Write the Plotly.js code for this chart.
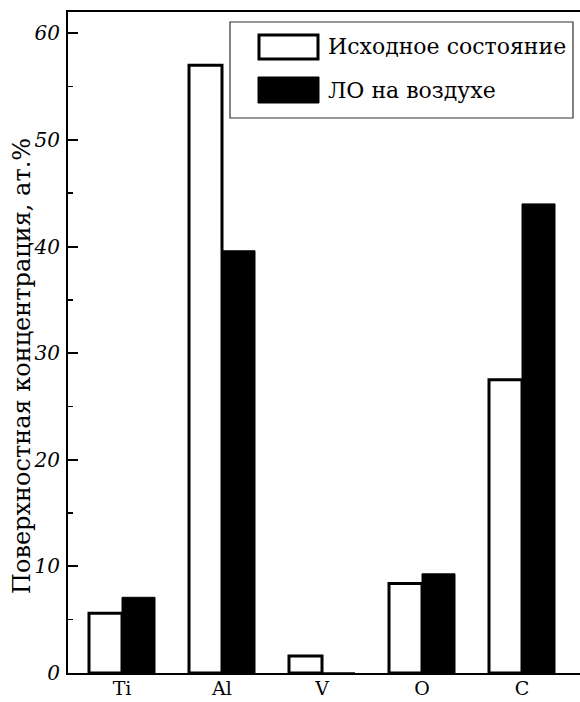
<!DOCTYPE html>
<html><head><meta charset="utf-8">
<script src="https://cdn.plot.ly/plotly-3.0.1.min.js"></script>
<style>html,body{margin:0;padding:0;background:#fff}#c{width:580px;height:702px}</style>
</head><body><div id="c"></div>
<script>
const categories = ["Ti", "Al", "V", "O", "C"];
const initialValues = [5.6, 57.0, 1.6, 8.4, 27.5];
const annealedValues = [7.1, 39.6, 0, 9.3, 44.0];
const seriesNames = ["Исходное состояние", "ЛО на воздухе"];
const yTickVals = [0, 10, 20, 30, 40, 50, 60];
const yTitle = "Поверхностная концентрация, ат.%";

const serif = "DejaVu Serif, Liberation Serif, serif";

const traces = [
  {type: "bar", x: categories, y: initialValues, name: seriesNames[0],
   marker: {color: "#fff", line: {color: "#000", width: 3}}},
  {type: "bar", x: categories, y: annealedValues, name: seriesNames[1],
   marker: {color: "#000", line: {color: "#000", width: 1}}}
];

const layout = {
  width: 580, height: 702,
  margin: {l: 68, r: 0, t: 12, b: 29},
  paper_bgcolor: "#fff", plot_bgcolor: "#fff",
  barmode: "group", bargap: 0.34, bargroupgap: 0,
  showlegend: false,
  font: {family: serif, color: "#000", size: 17},
  xaxis: {
    type: "category", range: [-0.54, 4.58],
    showline: true, linewidth: 2, linecolor: "#000", mirror: true,
    ticks: "", showgrid: false, zeroline: false,
    tickfont: {family: serif, size: 19, color: "#000"},
    ticklabelstandoff: -3
  },
  yaxis: {
    range: [0, 62], tickvals: yTickVals,
    showline: true, linewidth: 2, linecolor: "#000",
    ticks: "inside", ticklen: 10, tickwidth: 2, tickcolor: "#000",
    minor: {dtick: 5, ticks: "inside", ticklen: 5, tickwidth: 1.5, tickcolor: "#000"},
    showgrid: false, zeroline: false,
    tickfont: {family: serif, size: 20, color: "#000", style: "italic"},
    ticklabelstandoff: 2
  },
  shapes: [
    {type: "rect", xref: "paper", yref: "paper", x0: (230-68)/512, x1: (573-68)/512,
     y0: (673-118)/661, y1: (673-22)/661, line: {color: "#333", width: 1.2}, fillcolor: "#fff"},
    {type: "rect", xref: "paper", yref: "paper", x0: (259-68)/512, x1: (318-68)/512,
     y0: (673-59)/661, y1: (673-35)/661, line: {color: "#000", width: 3}, fillcolor: "#fff"},
    {type: "rect", xref: "paper", yref: "paper", x0: (258-68)/512, x1: (319-68)/512,
     y0: (673-103)/661, y1: (673-77)/661, line: {color: "#000", width: 1}, fillcolor: "#000"}
  ],
  annotations: [
    {xref: "paper", yref: "paper", x: (326-68)/512, y: (673-47)/661, xanchor: "left", yanchor: "middle",
     text: seriesNames[0], showarrow: false, font: {family: serif, size: 22, color: "#000"}},
    {xref: "paper", yref: "paper", x: (326-68)/512, y: (673-90)/661, xanchor: "left", yanchor: "middle",
     text: seriesNames[1], showarrow: false, font: {family: serif, size: 22, color: "#000"}},
    {xref: "paper", yref: "paper", x: (22-68)/512, y: (673-366)/661, xanchor: "center", yanchor: "middle",
     text: yTitle, textangle: -90, showarrow: false, font: {family: serif, size: 24, color: "#000"}}
  ]
};

Plotly.newPlot("c", traces, layout, {staticPlot: true, displayModeBar: false});
</script></body></html>
